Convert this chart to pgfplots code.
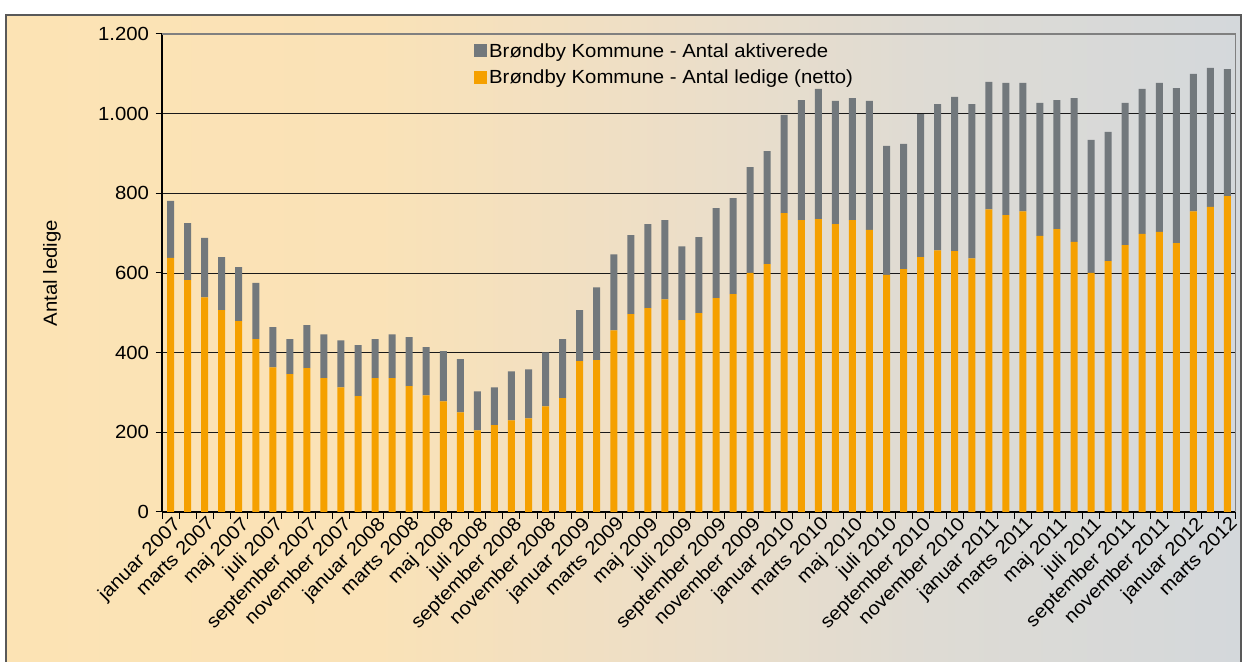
\documentclass[border=0pt]{standalone}
\usepackage{pgfplots}
\pgfplotsset{compat=1.18}
\usepackage{fontspec}
\setmainfont{Liberation Sans}[FakeStretch=1.07]
\newcommand\fs{\fontsize{19}{22}\selectfont}
\definecolor{barorange}{RGB}{245,160,0}
\definecolor{bargrey}{RGB}{114,120,124}
\definecolor{bgA}{RGB}{252,227,180}
\definecolor{bgB}{RGB}{250,226,183}
\definecolor{bgC}{RGB}{236,222,200}
\definecolor{bgD}{RGB}{222,219,212}
\definecolor{bgE}{RGB}{212,216,219}
\pgfdeclarehorizontalshading{bgshade}{100bp}{color(0bp)=(bgA); color(25bp)=(bgA); color(40bp)=(bgB); color(52.5bp)=(bgC); color(62.5bp)=(bgD); color(75bp)=(bgE); color(100bp)=(bgE)}
\begin{document}
\begin{tikzpicture}[x=1pt,y=1pt]
\path[use as bounding box] (0,0) rectangle (1244,661);
\shadedraw[shading=bgshade, draw=black!65, line width=2pt] (6,-10) rectangle (1241,646);
\begin{axis}[
  at={(162pt,149pt)}, anchor=south west,
  scale only axis, width=1074pt, height=478pt,
  xmin=0.5, xmax=63.5, ymin=0, ymax=1200,
  ybar stacked, bar width=7pt,
  axis lines*=left,
  axis line style={-, black, line width=1.3pt},
  font=\fs,
  tick label style={font=\fs},
  ytick={0,200,...,1200},
  ymajorgrids, major grid style={black!90, line width=0.9pt},
  yticklabel style={xshift=-3pt, /pgf/number format/.cd, 1000 sep={.}, assume math mode=true},
  tick align=outside,
  major tick length=6.5pt,
  tick style={black, line width=1pt},
  xtick={0.5,1.5,...,63.5},
  xticklabels={},
  extra x ticks={1,3,...,63},
  extra x tick labels={januar 2007, marts 2007, maj 2007, juli 2007, september 2007, november 2007,
    januar 2008, marts 2008, maj 2008, juli 2008, september 2008, november 2008,
    januar 2009, marts 2009, maj 2009, juli 2009, september 2009, november 2009,
    januar 2010, marts 2010, maj 2010, juli 2010, september 2010, november 2010,
    januar 2011, marts 2011, maj 2011, juli 2011, september 2011, november 2011,
    januar 2012, marts 2012},
  extra x tick style={major tick length=0pt, xticklabel style={rotate=45, anchor=north east, font=\fs, xshift=2pt}},
  every axis y label/.style={at={(axis description cs:-0.1024,0.5)}, rotate=90, anchor=center, font=\fs},
  ylabel={Antal ledige},
  legend style={at={(axis description cs:0.2905,0.985)}, anchor=north west, draw=none, fill=none,
    inner sep=0pt, font=\fs, row sep=7pt},
  legend cell align=left,
  reverse legend,
  legend image code/.code={\fill[#1] (0pt,-6.5pt) rectangle (13pt,6.5pt);},
]
\addplot[fill=barorange, draw=none] coordinates {
(1,638) (2,582) (3,539) (4,507) (5,479) (6,434) (7,363) (8,346) (9,361) (10,336)
(11,313) (12,291) (13,336) (14,336) (15,316) (16,293) (17,278) (18,250) (19,205) (20,218)
(21,230) (22,235) (23,265) (24,286) (25,379) (26,381) (27,456) (28,497) (29,512) (30,534)
(31,482) (32,499) (33,537) (34,547) (35,600) (36,622) (37,750) (38,733) (39,735) (40,723)
(41,733) (42,708) (43,595) (44,610) (45,640) (46,657) (47,655) (48,637) (49,760) (50,745)
(51,755) (52,693) (53,710) (54,678) (55,600) (56,630) (57,670) (58,698) (59,703) (60,675)
(61,755) (62,766) (63,793)};
\addlegendentry{Brøndby Kommune - Antal ledige (netto)}
\addplot[fill=bargrey, draw=none] coordinates {
(1,143) (2,143) (3,149) (4,133) (5,136) (6,141) (7,101) (8,88) (9,108) (10,110)
(11,118) (12,128) (13,98) (14,110) (15,123) (16,121) (17,126) (18,134) (19,98) (20,95)
(21,123) (22,123) (23,136) (24,148) (25,128) (26,183) (27,191) (28,198) (29,211) (30,199)
(31,185) (32,191) (33,226) (34,241) (35,266) (36,284) (37,247) (38,301) (39,327) (40,309)
(41,306) (42,324) (43,324) (44,314) (45,359) (46,367) (47,387) (48,387) (49,320) (50,332)
(51,322) (52,334) (53,324) (54,361) (55,334) (56,324) (57,357) (58,364) (59,374) (60,389)
(61,345) (62,349) (63,319)};
\addlegendentry{Brøndby Kommune - Antal aktiverede}
\draw[black!50, line width=2pt] (rel axis cs:0,1) -- (rel axis cs:1,1) -- (rel axis cs:1,0);
\end{axis}
\end{tikzpicture}
\end{document}
